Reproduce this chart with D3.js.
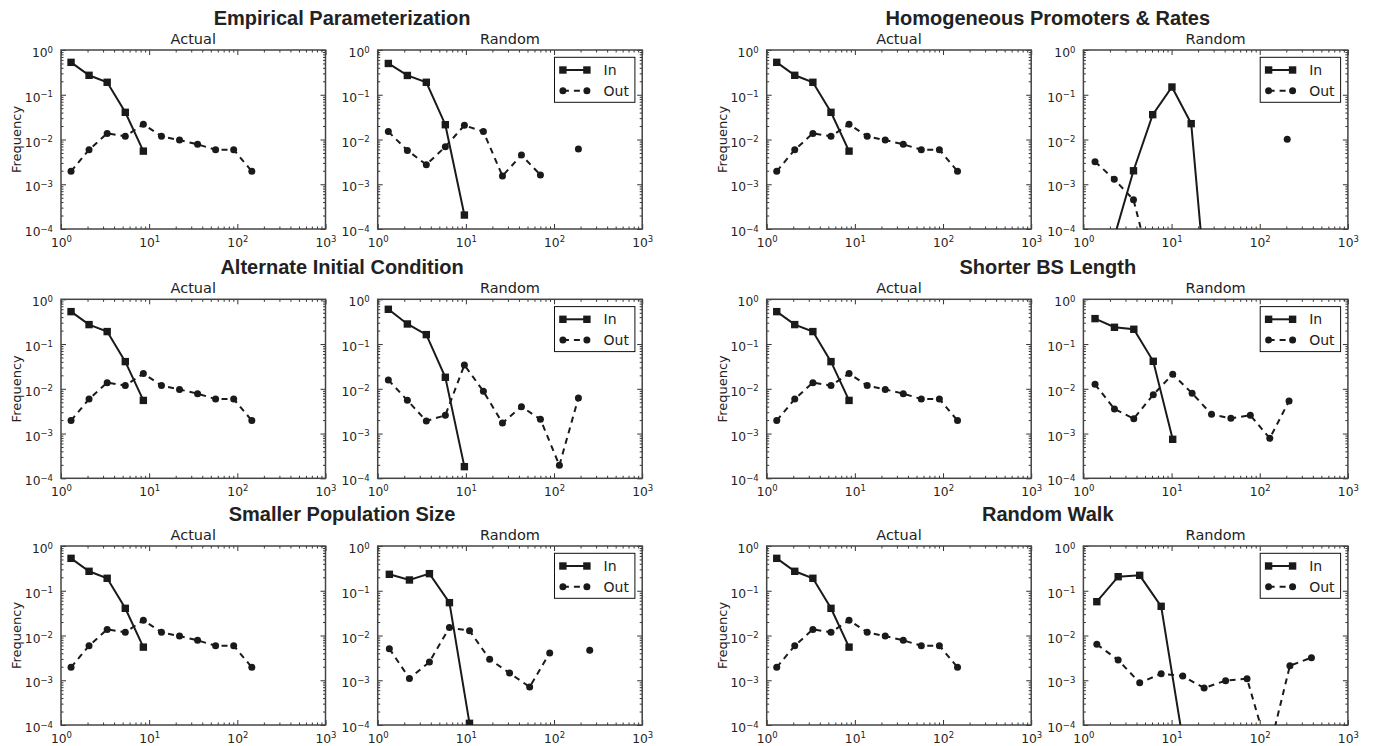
<!DOCTYPE html>
<html>
<head>
<meta charset="utf-8">
<script src="https://cdn.jsdelivr.net/npm/d3@7"></script>
<style>
  body { margin: 0; background: #fff; }
  svg text { font-family: "DejaVu Sans", sans-serif; fill: #222; }
  .gtitle { font-family: "Liberation Sans", Arial, sans-serif; font-weight: bold; font-size: 20px; }
  .tick line { stroke: #333; }
  .domain { display: none; }
</style>
</head>
<body>
<div id="chart"></div>
<script>
//// data
var groupTitles = ["Empirical Parameterization", "Homogeneous Promoters & Rates",
                   "Alternate Initial Condition", "Shorter BS Length",
                   "Smaller Population Size", "Random Walk"];
var panelNames = ["Actual", "Random"];
var seriesNames = ["In", "Out"];
var xMajor = [1, 10, 100, 1000];
var yMajor = [1e-4, 1e-3, 1e-2, 1e-1, 1];

// actual network (same in every group)
var actualBins = [1.30, 2.08, 3.34, 5.36, 8.59, 13.8, 22.1, 35.4, 56.7, 90.9, 146];
var actualIn   = [0.53, 0.272, 0.19, 0.0405, 0.0055];
var actualOut  = [0.00195, 0.0059, 0.0137, 0.0118, 0.0219, 0.0118, 0.0097, 0.0078, 0.0059, 0.0059, 0.00195];

// random networks, one per group
var empRandBins = [1.32, 2.17, 3.56, 5.85, 9.62, 15.8, 26.0, 42.7, 70.1, 115, 189];
var empRandIn   = [0.50, 0.27, 0.19, 0.0214, 0.000205];
var empRandOut  = [0.015, 0.0057, 0.00274, 0.0069, 0.0207, 0.015, 0.00153, 0.0045, 0.00161, null, 0.0061];

var homRandBins = [1.355, 2.24, 3.70, 6.11, 10.1, 16.7, 27.5, 45.5, 75.1, 124, 205];
var homRandIn   = [null, 0.000066, 0.0020, 0.0359, 0.149, 0.0226, 0.00000035];
var homRandOut  = [0.00319, 0.00129, 0.00045, 0.0000095, null, null, null, null, null, null, 0.0101];

var altRandBins = [1.32, 2.17, 3.56, 5.85, 9.62, 15.8, 26.0, 42.7, 70.1, 115, 189];
var altRandIn   = [0.598, 0.281, 0.1625, 0.0181, 0.000182];
var altRandOut  = [0.0157, 0.00553, 0.00191, 0.00256, 0.0341, 0.00879, 0.00172, 0.00399, 0.00208, 0.000195, 0.00624];

var bsRandBins = [1.355, 2.25, 3.73, 6.20, 10.3, 17.1, 28.4, 47.1, 78.2, 130, 215];
var bsRandIn   = [0.37, 0.237, 0.214, 0.0412, 0.000744];
var bsRandOut  = [0.0126, 0.00354, 0.00215, 0.0074, 0.0211, 0.00794, 0.00269, 0.00219, 0.00256, 0.000783, 0.00535];

var popRandBins = [1.355, 2.29, 3.86, 6.51, 11.0, 18.6, 31.3, 52.9, 89.3, 151, 254];
var popRandIn   = [0.233, 0.174, 0.241, 0.0542, 0.000109];
var popRandOut  = [0.00507, 0.0011, 0.00256, 0.015, 0.0128, 0.00294, 0.00145, 0.000706, 0.00406, null, 0.00467];

var walkRandBins = [1.42, 2.48, 4.35, 7.62, 13.4, 23.4, 41.0, 71.8, 126, 220, 386];
var walkRandIn   = [0.057, 0.206, 0.221, 0.0449, 0.000047];
var walkRandOut  = [0.00635, 0.00284, 0.00088, 0.0014, 0.00124, 0.00067, 0.00098, 0.00108, 0.000024, 0.00212, 0.00319];

var randomBins = [empRandBins, homRandBins, altRandBins, bsRandBins, popRandBins, walkRandBins];
var randomIn   = [empRandIn, homRandIn, altRandIn, bsRandIn, popRandIn, walkRandIn];
var randomOut  = [empRandOut, homRandOut, altRandOut, bsRandOut, popRandOut, walkRandOut];

//// layout
var width = 1374, height = 746;
var W = 264.5, H = 179;
var rowTop = [50, 299.3, 546];
var pairLeft = [61, 766.7];
var randomShift = 316.7;
var ink = "#1a1a1a";

var svg = d3.select("#chart").append("svg")
    .attr("width", width)
    .attr("height", height);

var x = d3.scaleLog().domain([1, 1000]).range([0, W]);
var y = d3.scaleLog().domain([1e-4, 1]).range([H, 0]);

function minors(majors) {
  var out = [];
  majors.slice(0, -1).forEach(function(m) {
    for (var k = 2; k <= 9; k++) out.push(m * k);
  });
  return out;
}
var xMinor = minors(xMajor), yMinor = minors(yMajor);

function powLabel(sel, v) {
  var e = Math.round(Math.log10(v));
  sel.text("10");
  sel.append("tspan")
    .attr("dy", -4.5)
    .attr("font-size", "8.5px")
    .text(e < 0 ? "\u2212" + (-e) : e);
}

var clipCount = 0;

function drawPanel(left, top, name, bins, inVals, outVals, isRandom) {
  var g = svg.append("g").attr("transform", "translate(" + left + "," + top + ")");

  // ticks on all four sides, pointing in
  g.append("g").attr("transform", "translate(0," + H + ")")
    .call(d3.axisBottom(x).tickValues(xMinor).tickSize(-2.5).tickFormat(""));
  g.append("g").call(d3.axisTop(x).tickValues(xMinor).tickSize(-2.5).tickFormat(""));
  g.append("g").call(d3.axisLeft(y).tickValues(yMinor).tickSize(-2.5).tickFormat(""));
  g.append("g").attr("transform", "translate(" + W + ",0)")
    .call(d3.axisRight(y).tickValues(yMinor).tickSize(-2.5).tickFormat(""));
  g.append("g").call(d3.axisTop(x).tickValues(xMajor).tickSize(-5).tickFormat(""));
  g.append("g").attr("transform", "translate(" + W + ",0)")
    .call(d3.axisRight(y).tickValues(yMajor).tickSize(-5).tickFormat(""));

  var xa = g.append("g").attr("transform", "translate(0," + H + ")")
    .call(d3.axisBottom(x).tickValues(xMajor).tickSize(-5));
  xa.selectAll("text")
    .attr("y", 17.5).attr("dy", null)
    .attr("font-size", "12.3px").attr("font-family", null)
    .each(function(d) { powLabel(d3.select(this), d); });

  var ya = g.append("g")
    .call(d3.axisLeft(y).tickValues(yMajor).tickSize(-5));
  ya.selectAll("text")
    .attr("x", -8).attr("dy", 6.5)
    .attr("font-size", "12.3px").attr("font-family", null)
    .each(function(d) { powLabel(d3.select(this), d); });

  g.selectAll(".tick line").attr("stroke", "#333");

  // frame
  g.append("rect")
    .attr("width", W).attr("height", H)
    .attr("fill", "none").attr("stroke", "#444").attr("stroke-width", 1.5);

  g.append("text")
    .attr("x", W / 2).attr("y", -6)
    .attr("text-anchor", "middle")
    .attr("font-size", "14.5px")
    .text(name);

  if (!isRandom) {
    g.append("text")
      .attr("transform", "translate(-40," + (H / 2) + ") rotate(-90)")
      .attr("text-anchor", "middle")
      .attr("font-size", "13px")
      .text("Frequency");
  }

  //// series
  var id = "clip" + (clipCount++);
  g.append("clipPath").attr("id", id)
    .append("rect").attr("width", W).attr("height", H);
  var plot = g.append("g").attr("clip-path", "url(#" + id + ")");

  var line = d3.line()
    .defined(function(d) { return d[1] != null; })
    .x(function(d) { return x(d[0]); })
    .y(function(d) { return y(d[1]); });

  var inPts = inVals.map(function(v, i) { return [bins[i], v]; });
  var outPts = outVals.map(function(v, i) { return [bins[i], v]; });

  plot.append("path").datum(outPts)
    .attr("d", line)
    .attr("fill", "none").attr("stroke", ink)
    .attr("stroke-width", 2).attr("stroke-dasharray", "6,5");
  plot.append("path").datum(inPts)
    .attr("d", line)
    .attr("fill", "none").attr("stroke", ink).attr("stroke-width", 2);

  plot.selectAll(".dotOut")
    .data(outPts.filter(function(d) { return d[1] != null; }))
    .enter().append("circle")
    .attr("class", "dotOut")
    .attr("cx", function(d) { return x(d[0]); })
    .attr("cy", function(d) { return y(d[1]); })
    .attr("r", 3.5)
    .attr("fill", ink);

  plot.selectAll(".sqIn")
    .data(inPts.filter(function(d) { return d[1] != null; }))
    .enter().append("rect")
    .attr("class", "sqIn")
    .attr("x", function(d) { return x(d[0]) - 3.7; })
    .attr("y", function(d) { return y(d[1]) - 3.7; })
    .attr("width", 7.4).attr("height", 7.4)
    .attr("fill", ink);

  //// legend
  if (isRandom) {
    var lg = g.append("g").attr("transform", "translate(" + (W - 87.7) + ",7.3)");
    lg.append("rect")
      .attr("width", 80.4).attr("height", 45)
      .attr("fill", "#fff").attr("stroke", "#111").attr("stroke-width", 1);
    seriesNames.forEach(function(s, i) {
      var ry = 12.7 + i * 20.7;
      lg.append("line")
        .attr("x1", 8.4).attr("x2", 32.4).attr("y1", ry).attr("y2", ry)
        .attr("stroke", ink).attr("stroke-width", 2)
        .attr("stroke-dasharray", i === 0 ? null : "6,5");
      [8.4, 32.4].forEach(function(px) {
        if (i === 0) {
          lg.append("rect").attr("x", px - 3.7).attr("y", ry - 3.7)
            .attr("width", 7.4).attr("height", 7.4).attr("fill", ink);
        } else {
          lg.append("circle").attr("cx", px).attr("cy", ry).attr("r", 3.5).attr("fill", ink);
        }
      });
      lg.append("text")
        .attr("x", 49).attr("y", ry + 5)
        .attr("font-size", "14px")
        .text(s);
    });
  }
}

groupTitles.forEach(function(title, gi) {
  var row = Math.floor(gi / 2), col = gi % 2;
  var top = rowTop[row];
  var left = pairLeft[col];

  svg.append("text")
    .attr("class", "gtitle")
    .attr("x", left + (randomShift + W) / 2 - 9.5)
    .attr("y", top - 25)
    .attr("text-anchor", "middle")
    .text(title);

  drawPanel(left, top, panelNames[0], actualBins, actualIn, actualOut, false);
  drawPanel(left + randomShift, top, panelNames[1], randomBins[gi], randomIn[gi], randomOut[gi], true);
});
</script>
</body>
</html>
